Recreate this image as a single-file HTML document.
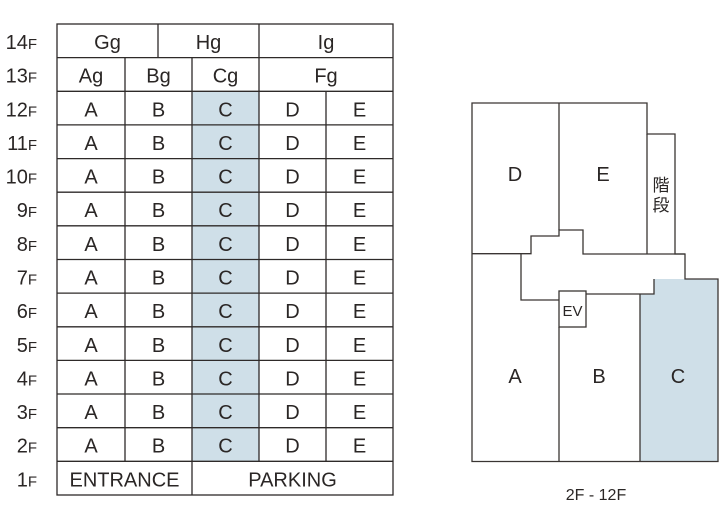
<!DOCTYPE html>
<html><head><meta charset="utf-8"><style>
body{margin:0;background:#fff;}
svg{display:block;font-family:"Liberation Sans","Noto Sans CJK JP",sans-serif;}
.t{font-size:20px;fill:#2a2625;text-anchor:middle;}
.f{font-size:20px;fill:#2a2625;text-anchor:end;}
.f tspan{font-size:15px;}
</style></head><body>
<svg width="720" height="520" viewBox="0 0 720 520">
<rect x="192" y="91.3" width="67" height="370" fill="#cfdfe8"/>
<g stroke="#2e2a29" stroke-width="1.3" fill="none">
<rect x="57" y="24" width="336" height="471"/>
<line x1="57" y1="57.6" x2="393" y2="57.6"/>
<line x1="57" y1="91.3" x2="393" y2="91.3"/>
<line x1="57" y1="124.9" x2="393" y2="124.9"/>
<line x1="57" y1="158.6" x2="393" y2="158.6"/>
<line x1="57" y1="192.2" x2="393" y2="192.2"/>
<line x1="57" y1="225.8" x2="393" y2="225.8"/>
<line x1="57" y1="259.5" x2="393" y2="259.5"/>
<line x1="57" y1="293.1" x2="393" y2="293.1"/>
<line x1="57" y1="326.8" x2="393" y2="326.8"/>
<line x1="57" y1="360.4" x2="393" y2="360.4"/>
<line x1="57" y1="394" x2="393" y2="394"/>
<line x1="57" y1="427.7" x2="393" y2="427.7"/>
<line x1="57" y1="461.3" x2="393" y2="461.3"/>
<line x1="158" y1="24" x2="158" y2="57.6"/>
<line x1="259" y1="24" x2="259" y2="461.3"/>
<line x1="125" y1="57.6" x2="125" y2="461.3"/>
<line x1="192" y1="57.6" x2="192" y2="495"/>
<line x1="326" y1="91.3" x2="326" y2="461.3"/>
</g>
<g class="f">
<text x="37" y="49">14<tspan>F</tspan></text>
<text x="37" y="82.6">13<tspan>F</tspan></text>
<text x="37" y="116.3">12<tspan>F</tspan></text>
<text x="37" y="149.9">11<tspan>F</tspan></text>
<text x="37" y="183.6">10<tspan>F</tspan></text>
<text x="37" y="217.2">9<tspan>F</tspan></text>
<text x="37" y="250.8">8<tspan>F</tspan></text>
<text x="37" y="284.5">7<tspan>F</tspan></text>
<text x="37" y="318.1">6<tspan>F</tspan></text>
<text x="37" y="351.8">5<tspan>F</tspan></text>
<text x="37" y="385.4">4<tspan>F</tspan></text>
<text x="37" y="419">3<tspan>F</tspan></text>
<text x="37" y="452.7">2<tspan>F</tspan></text>
<text x="37" y="486.3">1<tspan>F</tspan></text>
</g>
<g class="t">
<text x="107.5" y="49">Gg</text><text x="208.5" y="49">Hg</text><text x="326" y="49">Ig</text>
<text x="91" y="82.6">Ag</text><text x="158.5" y="82.6">Bg</text><text x="225.5" y="82.6">Cg</text><text x="326" y="82.6">Fg</text>
<text x="124.5" y="486.3">ENTRANCE</text><text x="292.5" y="486.3">PARKING</text>
</g>
<g class="t">
<text x="91" y="116.3">A</text><text x="158.5" y="116.3">B</text><text x="225.5" y="116.3">C</text><text x="292.5" y="116.3">D</text><text x="359.5" y="116.3">E</text>
<text x="91" y="149.9">A</text><text x="158.5" y="149.9">B</text><text x="225.5" y="149.9">C</text><text x="292.5" y="149.9">D</text><text x="359.5" y="149.9">E</text>
<text x="91" y="183.6">A</text><text x="158.5" y="183.6">B</text><text x="225.5" y="183.6">C</text><text x="292.5" y="183.6">D</text><text x="359.5" y="183.6">E</text>
<text x="91" y="217.2">A</text><text x="158.5" y="217.2">B</text><text x="225.5" y="217.2">C</text><text x="292.5" y="217.2">D</text><text x="359.5" y="217.2">E</text>
<text x="91" y="250.8">A</text><text x="158.5" y="250.8">B</text><text x="225.5" y="250.8">C</text><text x="292.5" y="250.8">D</text><text x="359.5" y="250.8">E</text>
<text x="91" y="284.5">A</text><text x="158.5" y="284.5">B</text><text x="225.5" y="284.5">C</text><text x="292.5" y="284.5">D</text><text x="359.5" y="284.5">E</text>
<text x="91" y="318.1">A</text><text x="158.5" y="318.1">B</text><text x="225.5" y="318.1">C</text><text x="292.5" y="318.1">D</text><text x="359.5" y="318.1">E</text>
<text x="91" y="351.8">A</text><text x="158.5" y="351.8">B</text><text x="225.5" y="351.8">C</text><text x="292.5" y="351.8">D</text><text x="359.5" y="351.8">E</text>
<text x="91" y="385.4">A</text><text x="158.5" y="385.4">B</text><text x="225.5" y="385.4">C</text><text x="292.5" y="385.4">D</text><text x="359.5" y="385.4">E</text>
<text x="91" y="419">A</text><text x="158.5" y="419">B</text><text x="225.5" y="419">C</text><text x="292.5" y="419">D</text><text x="359.5" y="419">E</text>
<text x="91" y="452.7">A</text><text x="158.5" y="452.7">B</text><text x="225.5" y="452.7">C</text><text x="292.5" y="452.7">D</text><text x="359.5" y="452.7">E</text>
</g>
<!-- floor plan -->
<path d="M654 279 H718 V461.5 H640 V294 H654 Z" fill="#cfdfe8"/>
<g stroke="#3a3533" stroke-width="1.3" fill="none">
<path d="M472 103 H647 V134 H675 V254 H685 V279 H718 V461.5 H472 Z"/>
<path d="M472 253.7 H531 V236 H559 V230 H583 V254 H685"/>
<line x1="559" y1="103" x2="559" y2="230"/>
<line x1="647" y1="134" x2="647" y2="254"/>
<path d="M521 253.7 V300 H559"/>
<rect x="559" y="291" width="27" height="36"/>
<line x1="559" y1="327" x2="559" y2="461.5"/>
<path d="M586 294 H654 V279"/>
<line x1="640" y1="294" x2="640" y2="461.5"/>
</g>
<g class="t">
<text x="515" y="181">D</text><text x="603" y="181">E</text>
<text x="515" y="383">A</text><text x="599" y="383">B</text><text x="678" y="383">C</text>
<text x="572.5" y="316" style="font-size:15px">EV</text>
<text x="661" y="191" style="font-size:17px">階</text>
<text x="661" y="211" style="font-size:17px">段</text>
<text x="596" y="500" style="font-size:16px">2F - 12F</text>
</g>
</svg>
</body></html>
